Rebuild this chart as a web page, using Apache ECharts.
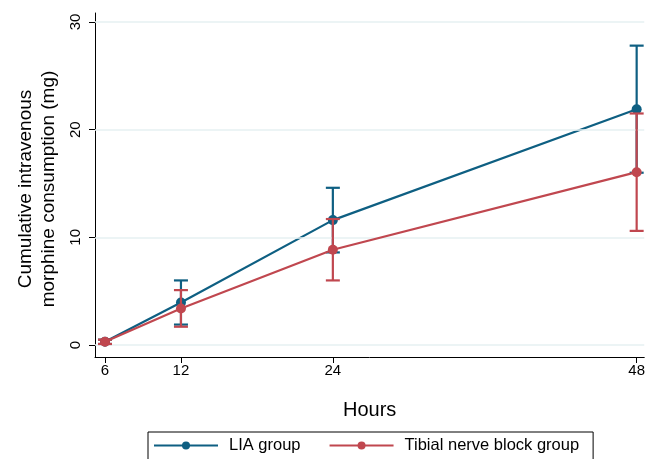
<!DOCTYPE html>
<html><head><meta charset="utf-8">
<script src="https://cdn.jsdelivr.net/npm/echarts@6/dist/echarts.min.js"></script>
<style>html,body{margin:0;padding:0;background:#fff}#c{width:648px;height:459px}</style>
</head><body><div id="c"></div>
<script>
const hours = [6, 12, 24, 48];
const xTicks = [6, 12, 24, 48];
const yTicks = [0, 10, 20, 30];
const liaMean = [0.3, 3.95, 11.6, 21.9];
const liaLow  = [0.1, 1.9, 8.6, 16.0];
const liaHigh = [0.5, 6.0, 14.6, 27.8];
const tnbMean = [0.3, 3.4, 8.85, 16.05];
const tnbLow  = [0.1, 1.7, 6.0, 10.6];
const tnbHigh = [0.5, 5.1, 11.7, 21.5];

const blue = '#0e5f82';
const red = '#c0474f';
const font = 'Liberation Sans, Arial, sans-serif';

function errSeries(name, low, high, color, z) {
  return {
    type: 'custom', name: name + '_err', z: z, silent: true,
    data: hours.map((h, i) => [h, low[i], high[i]]),
    renderItem: function (params, api) {
      const x = api.value(0);
      const p1 = api.coord([x, api.value(1)]);
      const p2 = api.coord([x, api.value(2)]);
      const w = 7;
      const st = { stroke: color, lineWidth: 2.2 };
      return { type: 'group', children: [
        { type: 'line', shape: { x1: p1[0], y1: p1[1], x2: p2[0], y2: p2[1] }, style: st },
        { type: 'line', shape: { x1: p1[0] - w, y1: p1[1], x2: p1[0] + w, y2: p1[1] }, style: st },
        { type: 'line', shape: { x1: p2[0] - w, y1: p2[1], x2: p2[0] + w, y2: p2[1] }, style: st }
      ]};
    }
  };
}

const chart = echarts.init(document.getElementById('c'));
chart.setOption({
  animation: false,
  textStyle: { fontFamily: font },
  grid: { left: 95, right: 3, top: 13, bottom: 102 },
  xAxis: {
    type: 'value', min: 5.21, max: 48.6,
    name: 'Hours', nameLocation: 'middle', nameGap: 43,
    nameTextStyle: { fontSize: 20, color: '#000', fontFamily: font },
    axisLine: { show: true, onZero: false, lineStyle: { color: '#000', width: 1 } },
    axisTick: { show: true, length: 6, customValues: xTicks, lineStyle: { color: '#000' } },
    axisLabel: { customValues: xTicks, fontSize: 15, color: '#000', margin: 6, fontFamily: font },
    splitLine: { show: false }
  },
  yAxis: {
    type: 'value', min: -1.11, max: 30.83,
    name: 'Cumulative intravenous\nmorphine consumption (mg)',
    nameLocation: 'middle', nameRotate: 90, nameGap: 33,
    nameTextStyle: { fontSize: 19, color: '#000', lineHeight: 23, fontFamily: font, padding: [0, 8, 0, 0] },
    axisLine: { show: true, onZero: false, lineStyle: { color: '#000', width: 1 } },
    axisTick: { show: true, length: 6, customValues: yTicks, lineStyle: { color: '#000' } },
    axisLabel: { customValues: yTicks, rotate: 90, fontSize: 15, color: '#000', margin: 12, fontFamily: font },
    splitLine: { show: false }
  },
  legend: {
    left: 148, top: 432, width: 460,
    data: ['LIA group', 'Tibial nerve block group'],
    itemWidth: 64, itemHeight: 10, itemGap: 28,
    borderColor: '#000', borderWidth: 1, borderRadius: 0,
    padding: [5, 14, 12, 5],
    textStyle: { fontSize: 16.5, color: '#000', fontFamily: font, padding: [0, 0, 0, 6] }
  },
  series: [
    {
      type: 'line', name: 'grid', silent: true, data: [], z: 0,
      markLine: {
        silent: true, symbol: 'none', label: { show: false },
        lineStyle: { color: '#e6f0f2', width: 1.5, type: 'solid' },
        data: yTicks.map(v => ({ yAxis: v }))
      }
    },
    errSeries('LIA', liaLow, liaHigh, blue, 3),
    {
      type: 'line', name: 'LIA group', z: 4,
      data: hours.map((h, i) => [h, liaMean[i]]),
      symbol: 'circle', symbolSize: 10,
      itemStyle: { color: blue }, lineStyle: { color: blue, width: 2.2 }
    },
    errSeries('TNB', tnbLow, tnbHigh, red, 5),
    {
      type: 'line', name: 'Tibial nerve block group', z: 6,
      data: hours.map((h, i) => [h, tnbMean[i]]),
      symbol: 'circle', symbolSize: 10,
      itemStyle: { color: red }, lineStyle: { color: red, width: 2.2 }
    }
  ]
});
</script></body></html>
